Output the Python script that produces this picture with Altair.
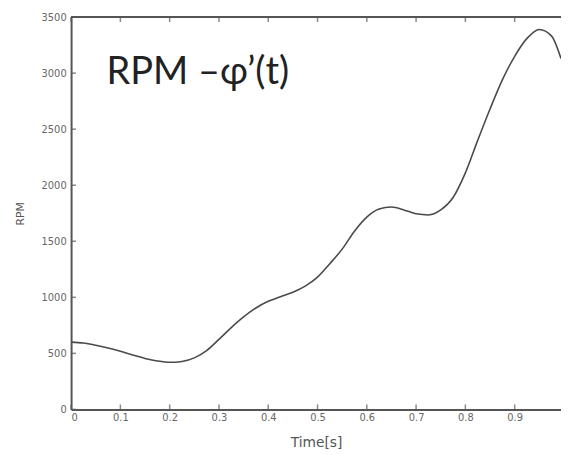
import altair as alt
import pandas as pd

# data
time_s = [0, 0.025, 0.05, 0.075, 0.1, 0.125, 0.15, 0.175, 0.2, 0.225, 0.25, 0.275,
          0.3, 0.325, 0.35, 0.375, 0.4, 0.425, 0.45, 0.475, 0.5, 0.525, 0.55, 0.575,
          0.6, 0.625, 0.65, 0.675, 0.7, 0.725, 0.75, 0.775, 0.8, 0.825, 0.85, 0.875,
          0.9, 0.925, 0.95, 0.975, 0.994]
rpm = [600, 592, 572, 547, 518, 485, 455, 432, 420, 428, 460, 525,
       625, 730, 825, 905, 965, 1005, 1045, 1100, 1180, 1300, 1430, 1590,
       1715, 1787, 1805, 1780, 1745, 1735, 1780, 1890, 2110, 2400, 2680, 2940,
       3150, 3310, 3390, 3330, 3130]
x_ticks = [0, 0.1, 0.2, 0.3, 0.4, 0.5, 0.6, 0.7, 0.8, 0.9]
y_ticks = [0, 500, 1000, 1500, 2000, 2500, 3000, 3500]
annotation = "RPM \u2013\u03c6\u2019(t)"

W, H = 497, 398
AX = "#555555"

df = pd.DataFrame({"t": time_s, "rpm": rpm})
xs = alt.Scale(domain=[0, 0.994], nice=False, zero=False)
ys = alt.Scale(domain=[0, 3500], nice=False)

x_axis = alt.Axis(title="Time[s]", values=x_ticks, format=".1~f", ticks=False,
                  domainColor=AX, domainWidth=2, labelColor="#666666",
                  labelFont="DejaVu Sans", labelFontSize=10, labelPadding=3,
                  titleFont="DejaVu Sans", titleFontSize=14, titleFontWeight="normal",
                  titleColor="#555555", titlePadding=14, grid=False)
y_axis = alt.Axis(title="RPM", values=y_ticks, format="d", ticks=False,
                  domainColor=AX, domainWidth=2, labelColor="#666666",
                  labelFont="DejaVu Sans", labelFontSize=10, labelPadding=5,
                  titleFont="DejaVu Sans", titleFontSize=11, titleFontWeight="normal",
                  titleColor="#555555", titlePadding=16, grid=False)

line = alt.Chart(df).mark_line(color="#4a4a4a", strokeWidth=1.6, interpolate="monotone", clip=True).encode(
    x=alt.X("t:Q", scale=xs, axis=x_axis, title="Time[s]"),
    y=alt.Y("rpm:Q", scale=ys, axis=y_axis, title="RPM"),
)

top_border = alt.Chart(pd.DataFrame({"d": [0]})).mark_rule(color=AX, strokeWidth=2).encode(
    x=alt.value(0), x2=alt.value(W), y=alt.value(0))

top_ticks = alt.Chart(pd.DataFrame({"t": x_ticks})).mark_tick(
    color=AX, orient="vertical", size=5, thickness=1.5).encode(
    x=alt.X("t:Q", scale=xs, axis=x_axis, title="Time[s]"),
    y=alt.value(2.5),
)
bottom_ticks = alt.Chart(pd.DataFrame({"t": x_ticks})).mark_tick(
    color=AX, orient="vertical", size=5, thickness=1.5).encode(
    x=alt.X("t:Q", scale=xs, axis=x_axis, title="Time[s]"),
    y=alt.value(H - 2.5),
)
left_ticks = alt.Chart(pd.DataFrame({"rpm": y_ticks})).mark_tick(
    color=AX, orient="horizontal", size=5, thickness=1.5).encode(
    y=alt.Y("rpm:Q", scale=ys, axis=y_axis, title="RPM"),
    x=alt.value(2.5),
)
label = alt.Chart(pd.DataFrame({"s": [annotation]})).mark_text(
    align="left", baseline="alphabetic", font="Lato", fontSize=38.5, color="#222222").encode(
    x=alt.value(36), y=alt.value(68), text="s:N")

chart = alt.layer(line, top_border, top_ticks, bottom_ticks, left_ticks, label).properties(
    width=W, height=H,
    autosize=alt.AutoSizeParams(type="none"),
    padding={"left": 64, "top": 6, "right": 0, "bottom": 41},
).configure_view(stroke=None).configure(background="white")

chart.save("out.html", embed_options={"renderer": "svg", "actions": False})
